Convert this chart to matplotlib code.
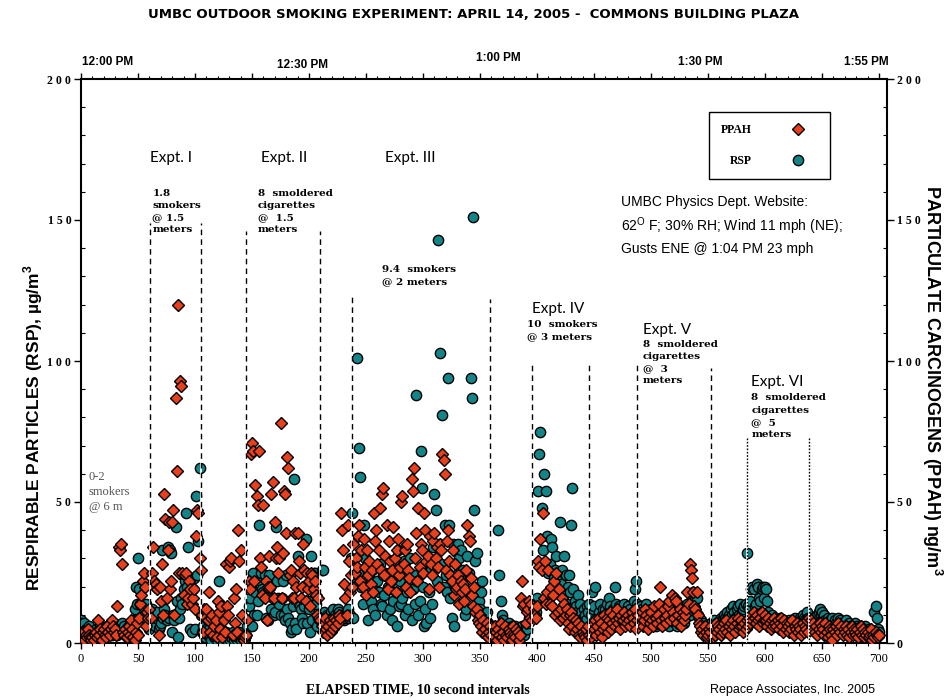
import numpy as np
import matplotlib
matplotlib.use("Agg")
import matplotlib.pyplot as plt
from matplotlib.ticker import MultipleLocator, FixedLocator, FixedFormatter

plt.rcParams['mathtext.fontset'] = 'custom'
plt.rcParams['mathtext.rm'] = 'Liberation Sans'
plt.rcParams['mathtext.bf'] = 'Liberation Sans:bold'

# RSP, ug/m3, one reading every 10 s (index 0..700)
rsp = [
    8, 7, 6, 7, 5, 4, 5, 6, 4, 3,
    3, 2, 4, 5, 3, 2, 4, 6, 5, 3,
    4, 5, 3, 6, 4, 5, 7, 3, 4, 6,
    5, 4, 3, 5, 6, 4, 7, 5, 6, 4,
    5, 3, 6, 4, 7, 5, 8, 12, 20, 14,
    30, 19, 14, 9, 8, 12, 10, 14, 8, 6,
    5, 10, 12, 10, 8, 6, 9, 11, 5, 6,
    7, 33, 9, 12, 10, 8, 34, 9, 33, 32,
    4, 10, 8, 41, 15, 2, 9, 12, 16, 14,
    19, 22, 46, 20, 34, 18, 5, 4, 19, 23,
    5, 52, 24, 36, 62, 10, 4, 6, 3, 2,
    5, 3, 5, 2, 1, 4, 3, 2, 6, 1,
    3, 22, 2, 5, 1, 3, 2, 4, 1, 2,
    3, 1, 2, 4, 1, 2, 3, 1, 2, 4,
    1, 2, 3, 1, 2, 3, 6, 13, 16, 21,
    6, 25, 10, 18, 10, 15, 42, 22, 25, 19,
    18, 24, 9, 18, 8, 24, 20, 12, 16, 10,
    11, 41, 22, 16, 14, 10, 16, 22, 10, 8,
    24, 12, 9, 7, 4, 5, 13, 58, 7, 5,
    31, 14, 13, 12, 9, 7, 13, 37, 7, 15,
    12, 4, 31, 8, 25, 25, 14, 6, 9, 10,
    8, 26, 26, 11, 7, 9, 10, 5, 8, 11,
    9, 12, 7, 10, 9, 12, 11, 8, 9, 10,
    10, 8, 9, 11, 12, 9, 10, 30, 46, 9,
    26, 22, 101, 25, 69, 59, 20, 14, 42, 30,
    27, 18, 8, 23, 15, 26, 12, 20, 10, 27,
    22, 18, 28, 14, 13, 24, 17, 25, 10, 20,
    19, 12, 22, 8, 15, 26, 18, 6, 33, 13,
    22, 14, 16, 29, 10, 25, 18, 12, 21, 30,
    8, 19, 24, 14, 88, 22, 10, 15, 68, 55,
    20, 6, 12, 7, 27, 18, 9, 26, 14, 34,
    53, 47, 22, 143, 35, 103, 28, 81, 20, 42,
    24, 18, 94, 42, 16, 9, 35, 6, 20, 24,
    22, 35, 30, 33, 18, 26, 24, 10, 12, 31,
    25, 18, 94, 87, 151, 47, 29, 32, 20, 15,
    12, 18, 22, 10, 6, 8, 11, 7, 4, 6,
    5, 3, 6, 4, 2, 5, 40, 24, 15, 10,
    8, 6, 4, 3, 5, 7, 4, 3, 6, 5,
    4, 6, 3, 5, 4, 2, 5, 6, 4, 3,
    6, 5, 7, 9, 8, 12, 10, 14, 13, 11,
    16, 54, 67, 75, 48, 33, 60, 28, 54, 38,
    25, 28, 37, 34, 20, 23, 26, 31, 22, 19,
    43, 21, 26, 18, 31, 24, 14, 20, 24, 18,
    42, 55, 19, 15, 13, 11, 17, 9, 14, 11,
    9, 12, 10, 8, 13, 11, 14, 10, 18, 12,
    13, 20, 9, 8, 11, 14, 9, 10, 12, 8,
    12, 14, 10, 16, 13, 11, 9, 12, 20, 14,
    11, 9, 13, 10, 8, 12, 14, 10, 9, 11,
    13, 10, 12, 9, 11, 15, 19, 22, 14, 12,
    10, 13, 12, 9, 8, 11, 14, 9, 10, 8,
    12, 7, 9, 11, 6, 10, 8, 13, 9, 7,
    10, 8, 12, 7, 9, 11, 6, 10, 8, 12,
    9, 7, 10, 6, 9, 11, 8, 12, 10, 7,
    9, 11, 14, 12, 10, 13, 16, 18, 15, 12,
    16, 10, 9, 7, 8, 6, 7, 5, 6, 4,
    5, 6, 4, 7, 5, 8, 6, 4, 7, 5,
    6, 9, 8, 7, 10, 9, 8, 11, 10, 9,
    12, 10, 13, 11, 9, 12, 13, 10, 14, 8,
    11, 12, 13, 14, 32, 13, 12, 15, 19, 20,
    19, 13, 14, 21, 20, 16, 15, 19, 20, 16,
    20, 19, 15, 11, 9, 8, 10, 7, 8, 6,
    8, 7, 6, 9, 7, 5, 8, 6, 7, 5,
    6, 8, 5, 7, 6, 8, 9, 7, 5, 6,
    7, 9, 8, 10, 9, 8, 7, 11, 9, 8,
    7, 9, 8, 6, 7, 9, 10, 11, 12, 10,
    11, 9, 10, 8, 7, 9, 6, 8, 7, 9,
    6, 8, 7, 5, 9, 6, 8, 7, 5, 6,
    7, 8, 6, 5, 7, 6, 4, 6, 5, 7,
    5, 6, 4, 5, 6, 3, 5, 4, 6, 3,
    4, 5, 3, 4, 2, 3, 11, 13, 9, 5,
    4,
]

# PPAH, ng/m3, same intervals
ppah = [
    3, 2, 4, 1, 3, 2, 5, 3, 2, 1,
    2, 1, 3, 4, 2, 8, 3, 5, 1, 4,
    5, 3, 2, 6, 4, 3, 5, 8, 6, 4,
    5, 3, 13, 34, 33, 35, 28, 4, 3, 5,
    2, 4, 6, 3, 8, 5, 2, 1, 4, 7,
    3, 9, 14, 17, 22, 25, 20, 6, 11, 9,
    12, 9, 25, 34, 22, 20, 21, 19, 3, 20,
    15, 28, 10, 53, 44, 16, 33, 43, 19, 22,
    43, 47, 10, 87, 61, 120, 25, 93, 91, 25,
    17, 24, 25, 14, 16, 22, 19, 14, 16, 19,
    12, 38, 47, 46, 30, 26, 10, 4, 12, 9,
    12, 8, 18, 4, 9, 10, 3, 6, 8, 2,
    15, 11, 5, 13, 2, 8, 4, 28, 13, 10,
    27, 29, 30, 3, 16, 7, 19, 4, 40, 29,
    33, 10, 2, 1, 2, 3, 8, 22, 19, 67,
    71, 68, 22, 56, 52, 49, 68, 30, 27, 17,
    49, 16, 22, 8, 20, 31, 20, 53, 57, 16,
    43, 30, 34, 25, 30, 78, 16, 32, 54, 53,
    39, 66, 62, 24, 26, 16, 22, 16, 39, 20,
    39, 29, 25, 16, 20, 35, 26, 15, 25, 19,
    22, 13, 25, 24, 19, 22, 17, 10, 16, 9,
    8, 6, 4, 7, 9, 5, 3, 6, 8, 4,
    7, 5, 9, 6, 8, 7, 10, 9, 46, 40,
    33, 21, 16, 10, 42, 29, 18, 24, 20, 35,
    25, 30, 27, 38, 42, 22, 33, 20, 37, 27,
    17, 33, 24, 29, 21, 26, 18, 46, 36, 40,
    28, 33, 48, 26, 53, 55, 24, 31, 42, 19,
    36, 29, 22, 26, 41, 30, 18, 33, 37, 24,
    27, 50, 52, 28, 33, 20, 35, 26, 23, 18,
    58, 54, 62, 30, 39, 22, 48, 27, 35, 33,
    25, 46, 40, 29, 31, 19, 38, 28, 24, 36,
    39, 30, 34, 27, 20, 35, 33, 67, 65, 60,
    26, 36, 40, 29, 24, 22, 33, 17, 28, 19,
    20, 24, 14, 22, 18, 21, 15, 19, 26, 42,
    38, 36, 23, 17, 13, 20, 11, 12, 8, 7,
    10, 6, 4, 8, 5, 3, 7, 2, 4, 6,
    3, 5, 2, 6, 4, 1, 5, 3, 7, 2,
    4, 1, 6, 3, 2, 5, 4, 3, 1, 6,
    3, 2, 5, 4, 1, 3, 16, 22, 13, 14,
    7, 11, 12, 15, 9, 14, 8, 12, 10, 9,
    13, 29, 27, 37, 26, 46, 16, 29, 14, 18,
    26, 14, 20, 13, 17, 22, 10, 25, 11, 19,
    8, 12, 16, 9, 14, 10, 12, 7, 5, 10,
    11, 6, 9, 4, 8, 5, 7, 3, 2, 6,
    4, 3, 2, 5, 1, 6, 3, 2, 4, 7,
    5, 8, 3, 6, 9, 4, 7, 2, 5, 10,
    6, 9, 4, 8, 11, 5, 7, 10, 6, 8,
    12, 7, 9, 5, 10, 8, 11, 6, 9, 7,
    10, 8, 6, 11, 9, 7, 12, 5, 8, 10,
    7, 9, 11, 6, 8, 12, 10, 5, 9, 7,
    11, 8, 6, 13, 9, 7, 10, 14, 20, 8,
    6, 12, 9, 7, 10, 13, 15, 8, 17, 11,
    9, 16, 15, 7, 10, 12, 6, 9, 11, 8,
    10, 12, 18, 14, 28, 26, 23, 18, 13, 12,
    18, 10, 7, 6, 4, 5, 3, 6, 4, 2,
    3, 5, 4, 6, 2, 5, 3, 7, 4, 6,
    5, 3, 6, 4, 7, 5, 8, 4, 6, 3,
    7, 5, 8, 6, 4, 7, 9, 5, 6, 8,
    6, 4, 7, 5, 8, 6, 9, 7, 10, 8,
    11, 9, 7, 10, 8, 6, 9, 11, 7, 8,
    10, 8, 6, 9, 7, 5, 8, 6, 9, 7,
    6, 8, 5, 7, 9, 6, 4, 8, 5, 7,
    6, 4, 7, 5, 8, 3, 6, 5, 7, 4,
    6, 5, 3, 7, 4, 6, 5, 8, 4, 9,
    8, 6, 7, 5, 4, 6, 3, 5, 7, 4,
    6, 5, 3, 7, 4, 2, 6, 5, 3, 1,
    5, 4, 6, 3, 7, 5, 4, 6, 3, 5,
    4, 6, 3, 5, 2, 4, 6, 3, 5, 4,
    3, 5, 2, 4, 6, 3, 5, 2, 4, 3,
    4, 2, 3, 5, 1, 3, 2, 4, 3, 2,
    3,
]

# experiment windows (elapsed intervals) and top of the dashed markers
expt_start = [60.5, 144.5, 237.5, 395.5, 487.5, 584]
expt_end = [105, 209.5, 359, 445.5, 553, 638.5]
start_top = [149, 146, 124, 98.5, 99, 72.7]
end_top = [149, 146, 122, 98.5, 97.5, 72.7]

time_labels = ["12:00 PM", "12:30 PM", "1:00 PM", "1:30 PM", "1:55 PM"]
time_px = [(108, 62), (302, 65), (498, 58), (700, 62), (866, 62)]

yticks = [0, 50, 100, 150, 200]
ytick_labels = ["0", "5 0", "1 0 0", "1 5 0", "2 0 0"]

RED = "#e8401c"
TEAL = "#138589"
W, H = 946, 700

x = np.arange(len(rsp))

fig = plt.figure(figsize=(W / 100, H / 100), dpi=100)
ax = fig.add_axes([81 / W, 57 / H, 806 / W, 564 / H])

ax.plot(x, rsp, ls="none", marker="o", ms=7.4, mfc=TEAL, mec="black",
        mew=1.0, label="RSP", zorder=3)
ax.plot(x, ppah, ls="none", marker="D", ms=6.2, mfc=RED, mec="black",
        mew=1.0, label="PPAH", zorder=4)

ax.set_xlim(0, 707)
ax.set_ylim(0, 200)

# experiment boundaries: white under-line so gaps of the dashes show white
for i in range(len(expt_start)):
    ls = (0, (1.2, 1.2)) if i == 5 else (0, (4, 3))
    for xv, top in ((expt_start[i], start_top[i]), (expt_end[i], end_top[i])):
        ax.vlines(xv, 0, top, colors="white", lw=1.3, zorder=5)
        ax.vlines(xv, 0, top, colors="black", lw=1.0, linestyles=[ls], zorder=6)

for s in ax.spines.values():
    s.set_linewidth(1.5)

# ticks
ax.xaxis.set_major_locator(MultipleLocator(50))
ax.xaxis.set_minor_locator(MultipleLocator(10))
ax.yaxis.set_major_locator(FixedLocator(yticks))
ax.yaxis.set_major_formatter(FixedFormatter(ytick_labels))
ax.yaxis.set_minor_locator(MultipleLocator(10))
ax.tick_params(axis="x", which="major", direction="out", length=4, width=1,
               top=True, bottom=True, labelsize=9, pad=3)
ax.tick_params(axis="x", which="minor", direction="out", length=2.2, width=0.8,
               top=True, bottom=True)
ax.tick_params(axis="y", which="major", direction="out", length=5, width=1,
               left=True, right=True, labelleft=True, labelright=True,
               labelsize=8.5, pad=2)
ax.tick_params(axis="y", which="minor", direction="in", length=3, width=0.8,
               left=True, right=True)
for lab in ax.get_xticklabels():
    lab.set_fontfamily("Liberation Serif")
for lab in ax.get_yticklabels(which="both"):
    lab.set_fontfamily("Liberation Serif")
    lab.set_fontweight("bold")

# top clock times
for lab, (px, py) in zip(time_labels, time_px):
    fig.text(px / W, 1 - py / H, lab, ha="center", va="center", fontsize=8.5,
             fontweight="bold", family=["Liberation Sans Narrow", "Liberation Sans"])

fig.text(0.5, 1 - 15 / H,
         "UMBC OUTDOOR SMOKING EXPERIMENT: APRIL 14, 2005 -  COMMONS BUILDING PLAZA",
         ha="center", va="center", fontsize=9.5, fontweight="bold",
         family="DejaVu Sans")

# experiment labels
sans = ["Lato", "DejaVu Sans"]
ax.text(60.5, 172, "Expt. I", fontsize=11, family=sans, va="center")
ax.text(158, 172, "Expt. II", fontsize=11, family=sans, va="center")
ax.text(267, 172, "Expt. III", fontsize=11, family=sans, va="center")
ax.text(396, 118.4, "Expt. IV", fontsize=11, family=sans, va="center")
ax.text(493, 111, "Expt. V", fontsize=11, family=sans, va="center")
ax.text(588, 92.7, "Expt. VI", fontsize=11, family=sans, va="center")

serif_b = dict(fontsize=7.5, family="DejaVu Serif", fontweight="bold",
               va="top", linespacing=1.45)
ax.text(62.5, 161, "1.8\nsmokers\n@ 1.5\nmeters", **serif_b)
ax.text(155, 161, "8  smoldered\ncigarettes\n@  1.5\nmeters", **serif_b)
ax.text(264, 134, "9.4  smokers\n@ 2 meters", **serif_b)
ax.text(391, 114.5, "10  smokers\n@ 3 meters", **serif_b)
ax.text(493, 107.5, "8  smoldered\ncigarettes\n@  3\nmeters", **serif_b)
ax.text(588, 88.5, "8  smoldered\ncigarettes\n@  5\nmeters", **serif_b)

ax.text(7, 61, "0-2\nsmokers\n@ 6 m", fontsize=9, family="Liberation Serif",
        color="#555555", va="top", linespacing=1.35)

ax.text(474, 159, "UMBC Physics Dept. Website:\n"
        "62$^{\\mathrm{O}}$ F; 30% RH; Wind 11 mph (NE);\n"
        "Gusts ENE @ 1:04 PM 23 mph",
        fontsize=10, family="Liberation Sans", va="top", linespacing=1.45)

leg = ax.legend(handles=ax.get_lines()[::-1], loc="upper left",
                bbox_to_anchor=((709 - 81) / 806, (643 - 112) / 564),
                borderaxespad=0, markerfirst=False, frameon=True,
                fancybox=False, edgecolor="black", framealpha=1,
                borderpad=1.0, labelspacing=1.6, handlelength=3.4,
                handletextpad=2.2,
                prop=dict(family="Liberation Serif", weight="bold", size=8.5))
leg.get_frame().set_linewidth(1.0)
leg.set_zorder(10)

fig.text(33 / W, 1 - 428 / H, "RESPIRABLE PARTICLES (RSP), \u00b5g/m$^{\\mathbf{3}}$",
         rotation=90, ha="center", va="center", fontsize=12.5, fontweight="bold",
         family="Liberation Sans")
fig.text(932 / W, 1 - 380 / H, "PARTICULATE CARCINOGENS (PPAH) ng/m$^{\\mathbf{3}}$",
         rotation=-90, ha="center", va="center", fontsize=13, fontweight="bold",
         family="Liberation Sans")

fig.text(418 / W, 1 - 690 / H, "ELAPSED TIME, 10 second intervals", ha="center",
         va="center", fontsize=10, fontweight="bold", family="Liberation Serif")
fig.text(792 / W, 1 - 690 / H, "Repace Associates, Inc. 2005", ha="center",
         va="center", fontsize=9, family="Liberation Sans")

fig.savefig("out.png", dpi=100)
